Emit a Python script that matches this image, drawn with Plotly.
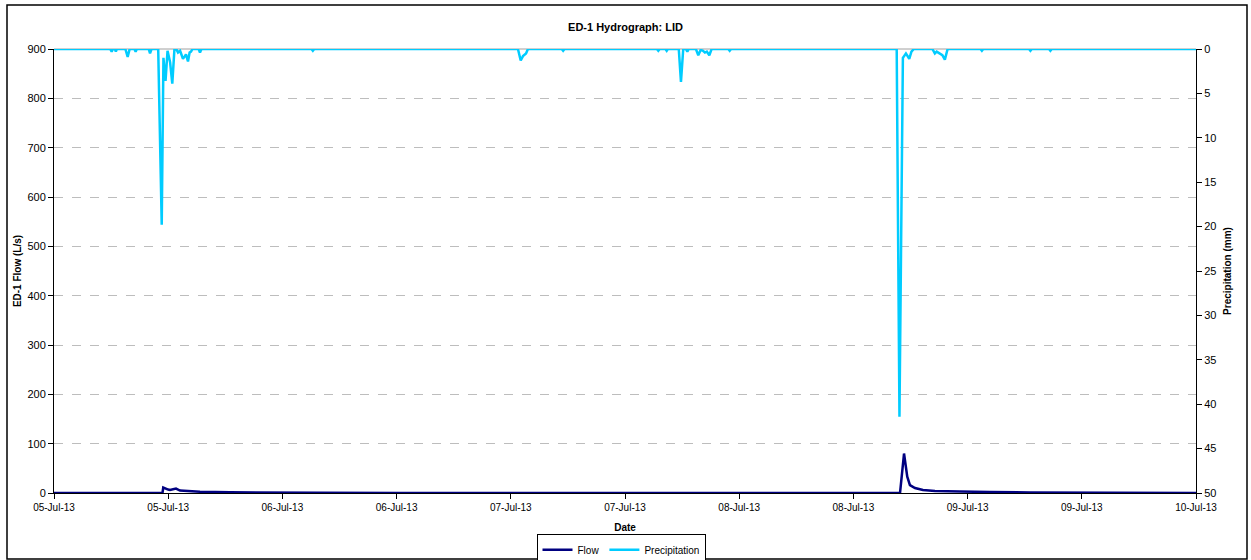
import plotly.graph_objects as go

# Hours since 05-Jul-13 00:00
x_tick_hours = [0, 12, 24, 36, 48, 60, 72, 84, 96, 108, 120]
x_tick_labels = ["05-Jul-13", "05-Jul-13", "06-Jul-13", "06-Jul-13", "07-Jul-13",
                 "07-Jul-13", "08-Jul-13", "08-Jul-13", "09-Jul-13", "09-Jul-13", "10-Jul-13"]

flow_hours = [0, 11.4, 11.48, 11.77, 12.0, 12.19, 12.5, 12.82, 13.24, 14.29, 15.34, 18.5,
              22.7, 28, 36.4, 88.9, 89.32, 89.66, 89.94, 90.47, 91.31, 92.57, 95.2, 96.8,
              98.35, 102.6, 109.9, 120]
flow_lps = [0, 0, 11, 8, 7, 6, 8, 9, 5, 3.5, 2.5, 1.5,
            0.8, 0.3, 0, 0, 80, 33, 16, 10, 6, 4, 3, 3,
            2, 1, 0.3, 0]

precip_hours = [0,
                5.9, 6.06, 6.2, 6.4, 6.5, 6.6, 7.5, 7.74, 7.95, 8.45, 8.58, 8.7,
                9.95, 10.09, 10.25,
                10.95, 11.32, 11.5, 11.72, 11.93, 12.2, 12.43, 12.65,
                12.85, 13.03, 13.25, 13.55, 13.75, 13.87, 14.08, 14.25, 14.4, 14.55,
                15.2, 15.34, 15.5, 27.05, 27.2, 27.35,
                48.75, 49.04, 49.28, 49.45, 49.6, 49.8, 53.35, 53.5, 53.65,
                63.35, 63.5, 63.65, 64.25, 64.38, 64.5, 65.65, 65.88, 66.12,
                66.4, 66.55, 66.7, 67.45, 67.7, 67.95, 68.2, 68.4, 68.6, 68.86, 69.1,
                70.85, 71.0, 71.15,
                88.55, 88.84, 89.2, 89.52, 89.87, 90.1, 90.35,
                92.3, 92.56, 92.75, 92.88, 93.09, 93.35, 93.61, 93.9,
                97.35, 97.5, 97.65, 102.45, 102.6, 102.75, 104.55, 104.7, 104.85, 120]
precip_mm = [0,
             0, 0.3, 0, 0, 0.3, 0, 0, 0.9, 0, 0, 0.3, 0,
             0, 0.5, 0,
             0, 19.8, 1.0, 3.6, 0.2, 1.5, 3.9, 0.1,
             0, 0.4, 0.2, 1.1, 0.8, 0.6, 1.4, 0.4, 0.3, 0,
             0, 0.4, 0, 0, 0.2, 0,
             0, 1.3, 0.8, 0.6, 0.5, 0, 0, 0.2, 0,
             0, 0.2, 0, 0, 0.2, 0, 0, 3.7, 0,
             0, 0.3, 0, 0, 0.7, 0.1, 0.2, 0.4, 0.3, 0.7, 0,
             0, 0.2, 0,
             0, 41.4, 1.0, 0.5, 1.1, 0.3, 0,
             0, 0.5, 0.3, 0.4, 0.6, 0.7, 1.2, 0,
             0, 0.2, 0, 0, 0.2, 0, 0, 0.2, 0, 0]

FONT = "Liberation Sans, Arial, sans-serif"

fig = go.Figure()
fig.add_trace(go.Scatter(x=flow_hours, y=flow_lps, name="Flow", mode="lines",
                         line=dict(color="#000080", width=2.5), yaxis="y"))
fig.add_trace(go.Scatter(x=precip_hours, y=precip_mm, name="Precipitation", mode="lines",
                         line=dict(color="#00CCFF", width=2.5), yaxis="y2"))

fig.update_layout(
    width=1251, height=560,
    margin=dict(l=54, r=55, t=49, b=67, autoexpand=False),
    paper_bgcolor="white", plot_bgcolor="white",
    font=dict(family=FONT, size=11, color="black"),
    title=dict(text="<b>ED-1 Hydrograph: LID</b>", x=0.5, xanchor="center",
               y=1 - 27 / 560, yanchor="middle", font=dict(size=11, family=FONT, color="black")),
    xaxis=dict(range=[0, 120], tickmode="array", tickvals=x_tick_hours, ticktext=x_tick_labels,
               showline=True, linecolor="black", linewidth=1, ticks="outside", ticklen=5,
               tickcolor="black", showgrid=False, zeroline=False, automargin=False,
               tickfont=dict(size=10, family=FONT),
               title=dict(text="<b>Date</b>", font=dict(size=10, family=FONT), standoff=11)),
    yaxis=dict(range=[0, 900], dtick=100, showline=True, linecolor="black", linewidth=1,
               ticks="outside", ticklen=5, tickcolor="black", zeroline=False, automargin=False,
               showgrid=True, gridcolor="#BDBDBD", griddash="dash", gridwidth=1,
               tickfont=dict(size=11, family=FONT),
               title=dict(text="<b>ED-1 Flow (L/s)</b>", font=dict(size=10, family=FONT), standoff=3)),
    yaxis2=dict(range=[50, 0], dtick=5, overlaying="y", side="right", showline=True,
                linecolor="black", linewidth=1, ticks="outside", ticklen=5, tickcolor="black",
                showgrid=False, zeroline=False, automargin=False, tickfont=dict(size=11, family=FONT),
                title=dict(text="<b>Precipitation (mm)</b>", font=dict(size=10, family=FONT), standoff=8)),
    legend=dict(orientation="h", x=0.4965, xanchor="center", y=-0.128, yanchor="middle",
                bordercolor="black", borderwidth=1, bgcolor="white",
                font=dict(size=10, family=FONT), itemwidth=30, tracegroupgap=0),
    showlegend=True,
)

# top border of the plot area (gray) and outer chart border
fig.add_shape(type="line", xref="paper", yref="paper", x0=0, x1=1, y0=1, y1=1,
              line=dict(color="#A0A0A0", width=1), layer="below")
fig.add_shape(type="rect", xref="paper", yref="paper",
              x0=(7 - 54) / 1142, x1=(1247 - 54) / 1142,
              y0=(493 - 559) / 444, y1=(493 - 5) / 444,
              line=dict(color="black", width=1.5), fillcolor="rgba(0,0,0,0)")

fig.write_html("out.html", config={"displayModeBar": False},
               post_script="document.body.style.margin='0';document.body.style.overflow='hidden';")
